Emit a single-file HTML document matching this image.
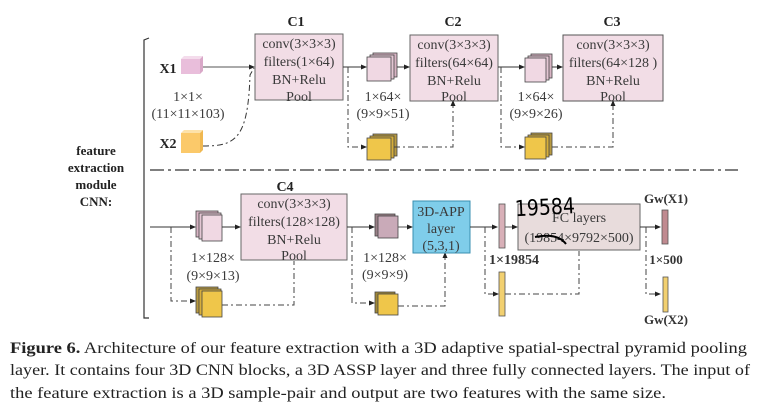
<!DOCTYPE html>
<html><head><meta charset="utf-8"><style>
html,body{margin:0;padding:0;background:#fff;}
svg{display:block;}
.t{font-family:"Liberation Serif",serif;fill:#3a3a3a;}
</style></head><body>
<svg width="765" height="412" viewBox="0 0 765 412" xmlns="http://www.w3.org/2000/svg">
<defs>
<marker id="a" markerWidth="6" markerHeight="6" refX="5" refY="3" orient="auto"><path d="M0,0.5 L6,3 L0,5.5z" fill="#222"/></marker>
</defs>
<g class="t" font-size="14">
<!-- bracket -->
<path d="M149,38 L144,40 L144,318 L149,318" fill="none" stroke="#333" stroke-width="1.2"/>
<g font-weight="bold" font-size="13" text-anchor="middle" fill="#222">
<text x="96" y="155">feature</text><text x="96" y="172">extraction</text><text x="96" y="189">module</text><text x="96" y="206">CNN:</text>
</g>
<line x1="150" y1="170" x2="738" y2="170" stroke="#333" stroke-width="1.2" stroke-dasharray="14,4,3,4"/>

<!-- top row -->
<g font-weight="bold" text-anchor="middle" font-size="14" fill="#222">
<text x="296" y="26">C1</text><text x="453" y="26">C2</text><text x="612" y="26">C3</text>
</g>
<text x="168" y="73" font-weight="bold" text-anchor="middle" fill="#222">X1</text>
<text x="168" y="148" font-weight="bold" text-anchor="middle" fill="#222">X2</text>
<path d="M181,59 l3,-3 h19 l-3,3z" fill="#f4dcec"/><path d="M200,59 l3,-3 v15 l-3,3z" fill="#d9a8c8"/>
<rect x="181" y="59" width="19" height="15" fill="#e9bedb"/>
<path d="M181,133 l3,-3 h19 l-3,3z" fill="#fde2aa"/><path d="M200,133 l3,-3 v20 l-3,3z" fill="#f0b850"/>
<rect x="181" y="133" width="19" height="20" fill="#fbc96a"/>
<text x="188" y="101" text-anchor="middle">1×1×</text>
<text x="188" y="118" text-anchor="middle">(11×11×103)</text>
<line x1="203" y1="67" x2="254" y2="67" stroke="#555" marker-end="url(#a)"/>
<path d="M203,146 C235,146 248,140 250,75 L254,68" fill="none" stroke="#333" stroke-dasharray="6,3,2,3"/>

<rect x="255" y="34" width="88" height="66" fill="#f2dde6" stroke="#666"/>
<g text-anchor="middle" font-size="14"><text x="299" y="48">conv(3×3×3)</text><text x="299" y="66">filters(1×64)</text><text x="299" y="84">BN+Relu</text><text x="299" y="101">Pool</text></g>

<rect x="410" y="35" width="88" height="66" fill="#f2dde6" stroke="#666"/>
<g text-anchor="middle" font-size="14"><text x="454" y="49">conv(3×3×3)</text><text x="454" y="67">filters(64×64)</text><text x="454" y="85">BN+Relu</text><text x="454" y="101">Pool</text></g>

<rect x="563" y="35" width="100" height="66" fill="#f2dde6" stroke="#555"/>
<g text-anchor="middle" font-size="14"><text x="613" y="49">conv(3×3×3)</text><text x="613" y="67">filters(64×128 )</text><text x="613" y="85">BN+Relu</text><text x="613" y="101">Pool</text></g>

<!-- stacks -->
<g stroke="#444" stroke-width="0.8">
<rect x="373" y="53" width="24" height="24" fill="#d8b4c4"/><rect x="370" y="55" width="24" height="24" fill="#e3c6d3"/><rect x="367" y="57" width="24" height="24" fill="#f0d8e3"/>
<rect x="373" y="134" width="24" height="22" fill="#b89a40"/><rect x="370" y="136" width="24" height="22" fill="#d6ae3a"/><rect x="367" y="138" width="24" height="22" fill="#efc64a"/>
<rect x="531" y="54" width="21" height="24" fill="#d8b4c4"/><rect x="528" y="56" width="21" height="24" fill="#e3c6d3"/><rect x="525" y="58" width="21" height="24" fill="#f0d8e3"/>
<rect x="531" y="133" width="21" height="22" fill="#b89a40"/><rect x="528" y="135" width="21" height="22" fill="#d6ae3a"/><rect x="525" y="137" width="21" height="22" fill="#efc64a"/>
</g>
<g text-anchor="middle"><text x="383" y="101">1×64×</text><text x="383" y="118">(9×9×51)</text><text x="536" y="101">1×64×</text><text x="536" y="118">(9×9×26)</text></g>
<line x1="343" y1="67" x2="366" y2="67" stroke="#333" marker-end="url(#a)"/>
<line x1="397" y1="67" x2="409" y2="67" stroke="#333" marker-end="url(#a)"/>
<line x1="498" y1="67" x2="524" y2="67" stroke="#333" marker-end="url(#a)"/>
<line x1="552" y1="67" x2="562" y2="67" stroke="#333" marker-end="url(#a)"/>
<g fill="none" stroke="#444" stroke-dasharray="6,3,2,3">
<path d="M348,67 V147 H366" marker-end="url(#a)"/>
<path d="M394,147 H453 V101" marker-end="url(#a)"/>
<path d="M501,67 V147 H524" marker-end="url(#a)"/>
<path d="M552,147 H613 V101" marker-end="url(#a)"/>
</g>

<!-- bottom row -->
<text x="285" y="191" font-weight="bold" text-anchor="middle" font-size="14" fill="#222">C4</text>
<rect x="241" y="194" width="106" height="66" fill="#f2dde6" stroke="#666"/>
<g text-anchor="middle" font-size="14"><text x="294" y="208">conv(3×3×3)</text><text x="294" y="226">filters(128×128)</text><text x="294" y="244">BN+Relu</text><text x="294" y="260">Pool</text></g>
<g stroke="#444" stroke-width="0.8">
<rect x="196" y="211" width="22" height="26" fill="#d8b4c4"/><rect x="199" y="213" width="22" height="26" fill="#e3c6d3"/><rect x="202" y="215" width="20" height="26" fill="#f0d8e3"/>
<rect x="196" y="287" width="22" height="26" fill="#b89a40"/><rect x="199" y="289" width="22" height="26" fill="#d6ae3a"/><rect x="202" y="291" width="20" height="26" fill="#efc64a"/>
<rect x="375" y="214" width="20" height="22" fill="#9a8088"/><rect x="378" y="216" width="20" height="22" fill="#c9aab8"/>
<rect x="375" y="292" width="20" height="21" fill="#a08838"/><rect x="378" y="294" width="20" height="21" fill="#efc64a"/>
</g>
<g text-anchor="middle"><text x="213" y="262">1×128×</text><text x="213" y="280">(9×9×13)</text><text x="385" y="262">1×128×</text><text x="385" y="279">(9×9×9)</text></g>
<line x1="150" y1="227" x2="195" y2="227" stroke="#333" marker-end="url(#a)"/>
<line x1="222" y1="227" x2="240" y2="227" stroke="#333" marker-end="url(#a)"/>
<line x1="347" y1="227" x2="374" y2="227" stroke="#333" marker-end="url(#a)"/>
<line x1="398" y1="227" x2="412" y2="227" stroke="#555" marker-end="url(#a)"/>
<g fill="none" stroke="#444" stroke-dasharray="6,3,2,3">
<path d="M171,227 V301 H195" marker-end="url(#a)"/>
<path d="M222,305 H294 V261"/>
<path d="M352,227 V303 H374" marker-end="url(#a)"/>
<path d="M398,306 H445 V253" marker-end="url(#a)"/>
</g>
<rect x="413" y="201" width="57" height="52" fill="#7fcdea" stroke="#3a8fb0"/>
<g text-anchor="middle" font-size="14"><text x="441" y="216">3D-APP</text><text x="441" y="233">layer</text><text x="441" y="250">(5,3,1)</text></g>

<line x1="470" y1="227" x2="497" y2="227" stroke="#333" marker-end="url(#a)"/>
<rect x="499" y="204" width="6" height="44" fill="#d8b0b8" stroke="#555" stroke-width="0.8"/>
<rect x="499" y="272" width="6" height="44" fill="#f2d070" stroke="#555" stroke-width="0.8"/>
<line x1="505" y1="227" x2="517" y2="227" stroke="#555" marker-end="url(#a)"/>
<path d="M485,227 V294 H498" fill="none" stroke="#444" stroke-dasharray="6,3,2,3" marker-end="url(#a)"/>
<path d="M505,294 H579 V251" fill="none" stroke="#444" stroke-dasharray="6,3,2,3"/>
<text x="489" y="264" font-weight="bold" fill="#333">1×19854</text>

<rect x="518" y="204" width="122" height="46" fill="#e8dcdc" stroke="#666"/>
<g text-anchor="middle" font-size="14"><text x="579" y="222">FC layers</text><text x="579" y="242">(19854×9792×500)</text></g>
<path d="M535,237 C550,234 560,236 566,244" fill="none" stroke="#000" stroke-width="2"/>
<text x="515" y="215" font-family="'DejaVu Sans',sans-serif" font-size="22" fill="#000" transform="rotate(-3 540 210)" textLength="60" lengthAdjust="spacingAndGlyphs">19584</text>

<line x1="640" y1="227" x2="660" y2="227" stroke="#333" marker-end="url(#a)"/>
<path d="M646,227 V294 H660" fill="none" stroke="#444" stroke-dasharray="6,3,2,3" marker-end="url(#a)"/>
<rect x="662" y="210" width="6" height="34" fill="#c08a90" stroke="#555" stroke-width="0.8"/>
<rect x="663" y="277" width="5" height="35" fill="#f2d070" stroke="#555" stroke-width="0.8"/>
<g text-anchor="middle" font-weight="bold" fill="#333" font-size="13"><text x="666" y="203">Gw(X1)</text><text x="666" y="264">1×500</text><text x="666" y="324">Gw(X2)</text></g>
</g>

<g font-family="'Liberation Serif',serif" font-size="15.5" fill="#222">
<text x="10" y="353" textLength="737" lengthAdjust="spacingAndGlyphs"><tspan font-weight="bold">Figure 6.</tspan> Architecture of our feature extraction with a 3D adaptive spatial-spectral pyramid pooling</text>
<text x="10" y="375" textLength="740" lengthAdjust="spacingAndGlyphs">layer. It contains four 3D CNN blocks, a 3D ASSP layer and three fully connected layers. The input of</text>
<text x="10" y="398" textLength="656" lengthAdjust="spacingAndGlyphs">the feature extraction is a 3D sample-pair and output are two features with the same size.</text>
</g>
</svg>
</body></html>
